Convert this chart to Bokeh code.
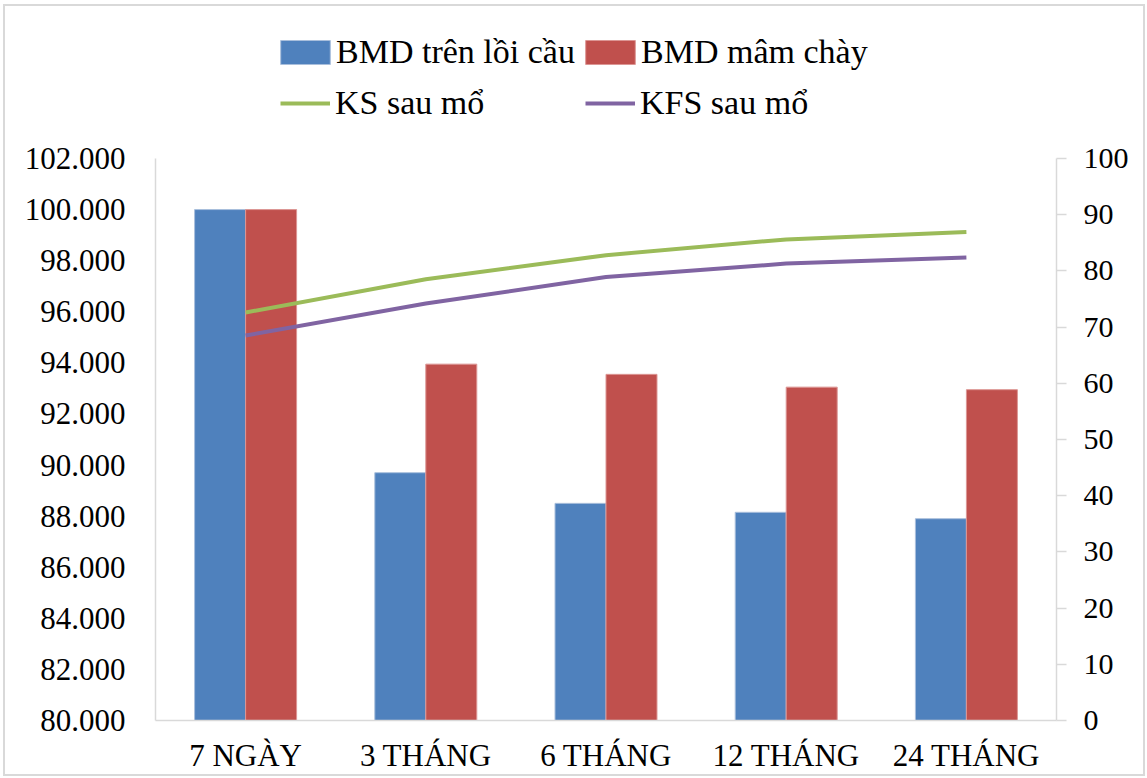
import numpy as np
from bokeh.plotting import figure
from bokeh.layouts import column
from bokeh.models import (FactorRange, Range1d, LinearAxis, FixedTicker,
                          PrintfTickFormatter, Legend, LegendItem)
from bokeh.transform import dodge
from bokeh.embed import file_html
from bokeh.resources import INLINE

# --- data ---------------------------------------------------------------
categories = ["7 NGÀY", "3 THÁNG", "6 THÁNG", "12 THÁNG", "24 THÁNG"]
bmd_loi_cau = [100.0, 89.7, 88.5, 88.15, 87.9]     # BMD trên lồi cầu
bmd_mam_chay = [100.0, 93.95, 93.55, 93.05, 92.95]  # BMD mâm chày
ks_sau_mo = [72.6, 78.5, 82.8, 85.6, 86.9]          # KS sau mổ (right axis)
kfs_sau_mo = [68.5, 74.2, 78.9, 81.3, 82.4]         # KFS sau mổ (right axis)
left_ticks = list(range(80, 103, 2))
right_ticks = list(range(0, 101, 10))

FONT = "Liberation Serif"
BLUE, RED, GREEN, PURPLE = "#4F81BD", "#C0504D", "#9BBB59", "#8064A2"
BLUE_EDGE, RED_EDGE = "#a9bfdc", "#dc9694"
GREY = "#d9d9d9"

W = 1147
HEAD_H = 130          # strip holding the legend
BODY_H = 778 - HEAD_H

source = dict(cat=categories, a=bmd_loi_cau, b=bmd_mam_chay,
              ks=ks_sau_mo, kfs=kfs_sau_mo)

# --- main chart -----------------------------------------------------------
p = figure(width=W, height=BODY_H, x_range=FactorRange(*categories),
           y_range=Range1d(80, 102), output_backend="svg",
           toolbar_location=None, min_border_left=155, min_border_right=91,
           min_border_top=28, min_border_bottom=58)
p.extra_y_ranges = {"score": Range1d(0, 100)}
p.outline_line_color = None
p.xgrid.grid_line_color = None
p.ygrid.grid_line_color = None
p.background_fill_color = "white"
p.border_fill_color = "white"

bw = 0.283
p.vbar(x=dodge("cat", -bw / 2, range=p.x_range), top="a", bottom=80,
       width=bw, source=source, fill_color=BLUE, line_color=BLUE_EDGE,
       line_width=1)
p.vbar(x=dodge("cat", bw / 2, range=p.x_range), top="b", bottom=80,
       width=bw, source=source, fill_color=RED, line_color=RED_EDGE,
       line_width=1)
p.line(x="cat", y="ks", source=source, y_range_name="score",
       line_color=GREEN, line_width=4)
p.line(x="cat", y="kfs", source=source, y_range_name="score",
       line_color=PURPLE, line_width=4)

# left axis
ly = p.yaxis[0]
ly.ticker = FixedTicker(ticks=left_ticks)
ly.formatter = PrintfTickFormatter(format="%.3f")
ly.major_label_text_font = FONT
ly.major_label_text_font_size = "31px"
ly.major_label_text_color = "black"
ly.axis_line_color = GREY
ly.axis_line_width = 1.5
ly.major_tick_line_color = None
ly.minor_tick_line_color = None
ly.major_label_standoff = 24

# right axis
ry = LinearAxis(y_range_name="score", ticker=FixedTicker(ticks=right_ticks))
ry.major_label_text_font = FONT
ry.major_label_text_font_size = "30px"
ry.major_label_text_color = "black"
ry.axis_line_color = GREY
ry.axis_line_width = 1.5
ry.major_tick_line_color = GREY
ry.major_tick_line_width = 1.5
ry.major_tick_in = 0
ry.major_tick_out = 10
ry.minor_tick_line_color = None
ry.major_label_standoff = 17
p.add_layout(ry, "right")

# category axis
bx = p.xaxis[0]
bx.major_label_text_font = FONT
bx.major_label_text_font_size = "31px"
bx.major_label_text_color = "black"
bx.axis_line_color = GREY
bx.axis_line_width = 1.5
bx.major_tick_line_color = None
bx.minor_tick_line_color = None
bx.major_label_standoff = 11

# --- legend strip ---------------------------------------------------------
head = figure(width=W, height=HEAD_H, x_range=Range1d(0, 1),
              y_range=Range1d(0, 1), output_backend="svg",
              toolbar_location=None, min_border=0,
              x_axis_location=None, y_axis_location=None)
head.outline_line_color = None
head.xgrid.grid_line_color = None
head.ygrid.grid_line_color = None
head.border_fill_color = "white"

# key glyphs: styled like the chart series, holding only a blank value
blank = np.array([np.nan])
k_a = head.vbar(x=blank, top=blank, width=0.1, fill_color=BLUE,
                line_color=BLUE_EDGE)
k_b = head.vbar(x=blank, top=blank, width=0.1, fill_color=RED,
                line_color=RED_EDGE)
k_ks = head.line(x=blank, y=blank, line_color=GREEN, line_width=4)
k_kfs = head.line(x=blank, y=blank, line_color=PURPLE, line_width=4)


def legend_row(items, x_px, bottom_px, glyph_w, glyph_h, standoff,
               label_w, spacing):
    lg = Legend(items=items, orientation="horizontal",
                location=(x_px, HEAD_H - bottom_px), padding=0, margin=0,
                spacing=spacing, glyph_width=glyph_w, glyph_height=glyph_h,
                label_standoff=standoff, label_width=label_w,
                label_text_font=FONT, label_text_font_size="34px",
                label_text_color="black", background_fill_alpha=0,
                border_line_color=None)
    head.add_layout(lg, "center")


# bar swatches are drawn inset by 10%, so their boxes are a bit larger
legend_row([LegendItem(label="BMD trên lồi cầu", renderers=[k_a]),
            LegendItem(label="BMD mâm chày", renderers=[k_b])],
           119, 71, 62, 30, 0, 240, 3)
legend_row([LegendItem(label="KS sau mổ", renderers=[k_ks]),
            LegendItem(label="KFS sau mổ", renderers=[k_kfs])],
           125, 122, 50, 24, 5, 245, 5)

layout = column(head, p, spacing=0)

html = file_html(layout, INLINE)
# thin grey frame around the whole chart
frame_div = ('<div style="position:fixed;left:3px;top:4px;right:2px;'
             'bottom:2px;border:2px solid ' + GREY + ';'
             'pointer-events:none;z-index:10"></div>')
html = html.replace("</body>", frame_div + "</body>")
open("out.html", "w").write(html)
